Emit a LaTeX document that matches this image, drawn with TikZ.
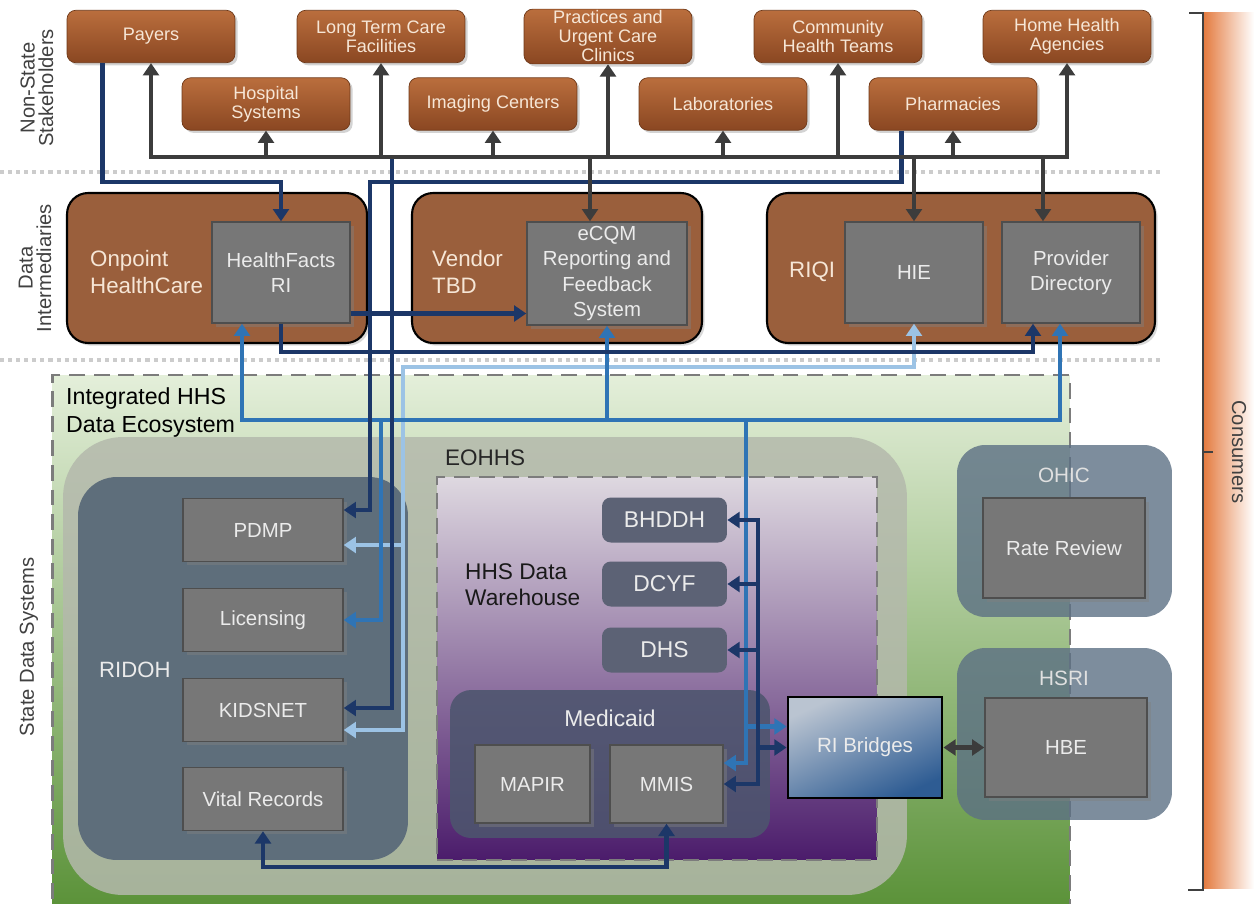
\documentclass[tikz,border=0pt]{standalone}
\usepackage{fontspec}
\setmainfont{Liberation Sans}
\usetikzlibrary{arrows.meta, calc, positioning, shadows}
\definecolor{holdtop}{HTML}{BA6E3D}
\definecolor{holdbot}{HTML}{8A4722}
\definecolor{holdedge}{HTML}{6E3818}
\definecolor{cream}{HTML}{F6E6D6}
\definecolor{brokerfill}{HTML}{9A5F3C}
\definecolor{sysgrey}{HTML}{777777}
\definecolor{sysedge}{HTML}{4E4E4E}
\definecolor{greenhi}{HTML}{E4EFDA}
\definecolor{greenlo}{HTML}{5B9239}
\definecolor{sage}{HTML}{B4B9AC}
\definecolor{slate}{HTML}{5E6E7B}
\definecolor{lavender}{HTML}{DED8E0}
\definecolor{plum}{HTML}{4B1C6B}
\definecolor{medfill}{HTML}{4D556E}
\definecolor{deptfill}{HTML}{5C6275}
\definecolor{agency}{HTML}{5C7084}
\definecolor{bridgehi}{HTML}{BAC4D1}
\definecolor{bridgelo}{HTML}{2E5C93}
\definecolor{consorange}{HTML}{E3773A}
\definecolor{darkgrey}{HTML}{3C3C3C}
\definecolor{navy}{HTML}{1C3768}
\definecolor{midblue}{HTML}{2F74B5}
\definecolor{lightblue}{HTML}{9CC3E5}
\definecolor{dashgrey}{HTML}{7C7C7C}
\definecolor{sepgrey}{HTML}{CCCCCC}
\definecolor{labelgrey}{HTML}{404040}
\tikzset{>={Triangle[length=7pt,width=9pt]}}

\begin{document}
\begin{tikzpicture}[x=0.02cm, y=-0.02cm,
    holder/.style={draw=holdedge, top color=holdtop, bottom color=holdbot, rounded corners=5pt,
        minimum width=3.36cm, minimum height=1.05cm, inner sep=1pt, align=center, text=cream,
        font=\fontsize{10.3}{10.8}\selectfont, drop shadow={opacity=0.35, shadow xshift=1.5pt, shadow yshift=-1.5pt}},
    broker/.style={draw=black, line width=1.2pt, fill=brokerfill, rounded corners=12pt,
        minimum height=3cm, inner sep=0pt, drop shadow={opacity=0.3, shadow xshift=1.5pt, shadow yshift=-1.5pt}},
    brokertext/.style={text=cream, align=left, font=\fontsize{12.7}{15.3}\selectfont},
    sysbox/.style={draw=sysedge, line width=0.8pt, fill=sysgrey, text=white!92!black, align=center,
        inner sep=1pt, font=\fontsize{11.6}{14.3}\selectfont,
        drop shadow={opacity=0.45, shadow xshift=2pt, shadow yshift=-2pt}},
    dept/.style={fill=deptfill, rounded corners=5pt, text=white!92!black, minimum width=2.5cm,
        minimum height=0.9cm, font=\fontsize{13}{15}\selectfont},
    agencybox/.style={fill=agency, fill opacity=0.8, rounded corners=16pt, minimum width=4.3cm,
        minimum height=3.44cm, inner sep=0pt},
    sidelabel/.style={text=labelgrey, align=center, font=\fontsize{11.5}{10.5}\selectfont},
    greyline/.style={draw=darkgrey, line width=2.8pt},
    navyline/.style={draw=navy, line width=2.8pt},
    midline/.style={draw=midblue, line width=2.8pt},
    lightline/.style={draw=lightblue, line width=2.8pt},
    sepline/.style={draw=sepgrey, line width=2.5pt, dash pattern=on 2.3pt off 2.3pt}]
\useasboundingbox (0,0) rectangle (1254,903);

% separators
\draw[sepline] (0,172) -- (1160,172);
\draw[sepline] (0,360) -- (1160,360);

% side labels
\node[sidelabel, rotate=90] (nonstate) at (37,88) {Non-State\\Stakeholders};
\node[sidelabel, rotate=90] (dataint) at (35,268) {Data\\Intermediaries};
\node[sidelabel, rotate=90] (statesys) at (29,647) {State Data Systems};

% consumers
\shade[left color=consorange, right color=white] (1202,12) rectangle (1254,888);
\draw[labelgrey, line width=0.6pt] (1189,13) -- (1203,13) -- (1203,890) -- (1188,890);
\draw[labelgrey, line width=0.6pt] (1203,452) -- (1213,452);
\node[sidelabel, rotate=-90] (consumers) at (1239,452) {Consumers};

% non-state stakeholders
\foreach \nm/\x/\y/\txt in {
    payers/151/36.5/Payers,
    ltc/381/36.5/Long Term Care\\Facilities,
    practices/608/36.5/Practices and\\Urgent Care\\Clinics,
    community/838/36.5/Community\\Health Teams,
    homehealth/1067/36.5/Home Health\\Agencies,
    hospital/266/104/Hospital\\Systems,
    imaging/493/104/Imaging Centers,
    labs/723/104/Laboratories,
    pharmacies/953/104/Pharmacies}
    \node[holder] (\nm) at (\x,\y) {\txt};

% data intermediaries
\node[broker, minimum width=6cm] (onpoint) at (217,268) {};
\node[broker, minimum width=5.8cm] (vendor) at (557,268) {};
\node[broker, minimum width=7.76cm] (riqi) at (961,268) {};
\node[brokertext, anchor=west] (onpointtxt) at (84,272) {Onpoint\\HealthCare};
\node[brokertext, anchor=west] (vendortxt) at (426,272) {Vendor\\TBD};
\node[brokertext, anchor=west] (riqitxt) at (783,272) {RIQI};
\node[sysbox, minimum width=2.76cm, minimum height=2.02cm] (hfacts) at (281,272.5) {HealthFacts\\RI};
\node[sysbox, minimum width=3.2cm, minimum height=2.06cm] (ecqm) at (607,273.5) {eCQM\\Reporting and\\Feedback\\System};
\node[sysbox, minimum width=2.76cm, minimum height=2.02cm] (hie) at (914,272.5) {HIE};
\node[sysbox, minimum width=2.76cm, minimum height=2.02cm] (provdir) at (1071,272.5) {Provider\\Directory};

% state data systems
\node[draw=dashgrey, line width=1.6pt, dash pattern=on 9pt off 5pt, top color=greenhi, bottom color=greenlo,
    minimum width=20.36cm, minimum height=10.62cm, inner sep=0pt] (eco) at (561,640.5) {};
\node[anchor=north west, align=left, font=\fontsize{13.2}{16}\selectfont] (ecotxt) at (60,381) {Integrated HHS\\Data Ecosystem};
\node[fill=sage, fill opacity=0.85, rounded corners=34pt, minimum width=16.88cm, minimum height=9.16cm,
    inner sep=0pt] (state) at (485,666) {};
\node[fill=slate, rounded corners=22pt, minimum width=6.6cm, minimum height=7.66cm, inner sep=0pt] (ridoh) at (243,668.5) {};
\node[anchor=west, text=white!92!black, font=\fontsize{12.6}{15}\selectfont] (ridohtxt) at (93,670) {RIDOH};
\node[draw=dashgrey, line width=1.6pt, dash pattern=on 9pt off 5pt, top color=lavender, bottom color=plum,
    minimum width=8.8cm, minimum height=7.66cm, inner sep=0pt] (hhsdw) at (657,668.5) {};
\node[anchor=west, text=black!85, font=\fontsize{12.8}{15}\selectfont] (eohhs) at (439,458) {EOHHS};
\node[anchor=west, align=left, text=black!90, font=\fontsize{12.9}{15}\selectfont] (dwtxt) at (459,585) {HHS Data\\Warehouse};
\node[fill=medfill, fill opacity=0.88, rounded corners=12pt, minimum width=6.4cm, minimum height=2.96cm,
    inner sep=0pt] (medicaid) at (610,764) {};
\node[text=white!92!black, font=\fontsize{13}{15}\selectfont] (medtxt) at (610,718) {Medicaid};

\foreach \nm/\y/\txt in {pdmp/530/PDMP, licensing/620/Licensing, kidsnet/710/KIDSNET, vital/799/Vital Records}
    \node[sysbox, minimum width=3.2cm, minimum height=1.26cm] (\nm) at (263,\y) {\txt};
\foreach \nm/\y/\txt in {bhddh/520/BHDDH, dcyf/584/DCYF, dhs/650/DHS}
    \node[dept] (\nm) at (664.5,\y) {\txt};
\node[sysbox, minimum width=2.3cm, minimum height=1.56cm] (mapir) at (532.5,784) {MAPIR};
\node[sysbox, minimum width=2.26cm, minimum height=1.56cm] (mmis) at (666.5,784) {MMIS};
\node[draw=black, line width=1.6pt, top color=bridgehi, bottom color=bridgelo, shading angle=25,
    minimum width=3.08cm, minimum height=2.02cm, text=white!92!black, font=\fontsize{11.7}{14}\selectfont] (ribridges) at (865,747.5) {RI Bridges};

\node[agencybox] (ohic) at (1064.5,531) {};
\node[agencybox] (hsri) at (1064.5,734) {};
\node[text=white!88!black, font=\fontsize{11.8}{14}\selectfont] (ohictxt) at (1064,475) {OHIC};
\node[text=white!88!black, font=\fontsize{11.8}{14}\selectfont] (hsritxt) at (1064,678) {HSRI};
\node[sysbox, minimum width=3.24cm, minimum height=2cm] (ratereview) at (1064,548) {Rate Review};
\node[sysbox, minimum width=3.24cm, minimum height=1.98cm] (hbe) at (1066,747.5) {HBE};

% connectors
\coordinate (gbus) at (0,157);
\coordinate (nrow) at (0,182);
\coordinate (nlow) at (0,352);
\coordinate (lrow) at (0,367);
\coordinate (mbus) at (0,420);
\coordinate (nbot) at (0,867);
\coordinate (trunkA) at (370,0);
\coordinate (trunkB) at (381,0);
\coordinate (trunkC) at (392,0);
\coordinate (trunkD) at (403,0);
\coordinate (trunkE) at (746,0);
\coordinate (trunkF) at (758,0);

\coordinate (payout) at ($(payers.south west)+(36,0)$);
\coordinate (pharmout) at ($(pharmacies.south west)+(33,0)$);
\coordinate (pdmpN) at ($(pdmp.east)+(0,-20)$);
\coordinate (pdmpL) at ($(pdmp.east)+(0,15)$);
\coordinate (kidsN) at ($(kidsnet.east)+(0,-2)$);
\coordinate (kidsL) at ($(kidsnet.east)+(0,20)$);
\coordinate (hfR) at ($(hfacts.east)+(0,41)$);
\coordinate (hfM) at ($(hfacts.south)+(-39,0)$);
\coordinate (ecG) at ($(ecqm.north)+(-17,0)$);
\coordinate (pdG) at ($(provdir.north)+(-28,0)$);
\coordinate (pdN) at ($(provdir.south)+(-38,0)$);
\coordinate (pdM) at ($(provdir.south)+(-11,0)$);
\coordinate (mmisM) at ($(mmis.east)+(0,-21)$);
\coordinate (ribM) at ($(ribridges.west)+(0,-21)$);

% light blue
\draw[lightline,<->] (hie.south) |- (trunkD |- lrow) |- (kidsL);
\draw[lightline,->] (trunkD |- pdmpL) -- (pdmpL);

% mid blue
\draw[midline,<->] (hfM) |- (pdM |- mbus) -- (pdM);
\draw[midline,->] (ecqm.south |- mbus) -- (ecqm.south);
\draw[midline,->] (trunkB |- mbus) |- (licensing.east);
\draw[midline,->] (trunkE |- mbus) |- (mmisM);
\draw[midline,->] (trunkE |- ribM) -- (ribM);

% navy
\draw[navyline,->] (payout) |- (hfacts.north |- nrow) -- (hfacts.north);
\draw[navyline,->] (pharmout) |- (trunkA |- nrow) |- (pdmpN);
\draw[navyline,->] (trunkC |- gbus) |- (kidsN);
\draw[navyline,->] (hfR) -- (ecqm.west |- hfR);
\draw[navyline,->] (hfacts.south) |- (pdN |- nlow) -- (pdN);
\draw[navyline,<->] (bhddh.east) -- (trunkF |- bhddh.east) |- (mmis.east);
\foreach \nm in {dcyf,dhs}
    \draw[navyline,->] (trunkF |- \nm.east) -- (\nm.east);
\draw[navyline,->] (trunkF |- ribridges.west) -- (ribridges.west);
\draw[navyline,<->] (vital.south) |- (mmis.south |- nbot) -- (mmis.south);

% grey
\draw[greyline,<->] (payers.south) |- (homehealth.south |- gbus) -- (homehealth.south);
\foreach \nm in {hospital,ltc,imaging,practices,labs,community,pharmacies}
    \draw[greyline,->] (\nm.south |- gbus) -- (\nm.south);
\foreach \c in {ecG,hie.north,pdG}
    \draw[greyline,->] (\c |- gbus) -- (\c);
\draw[greyline,<->] (ribridges.east) -- (hbe.west);
\end{tikzpicture}
\end{document}
